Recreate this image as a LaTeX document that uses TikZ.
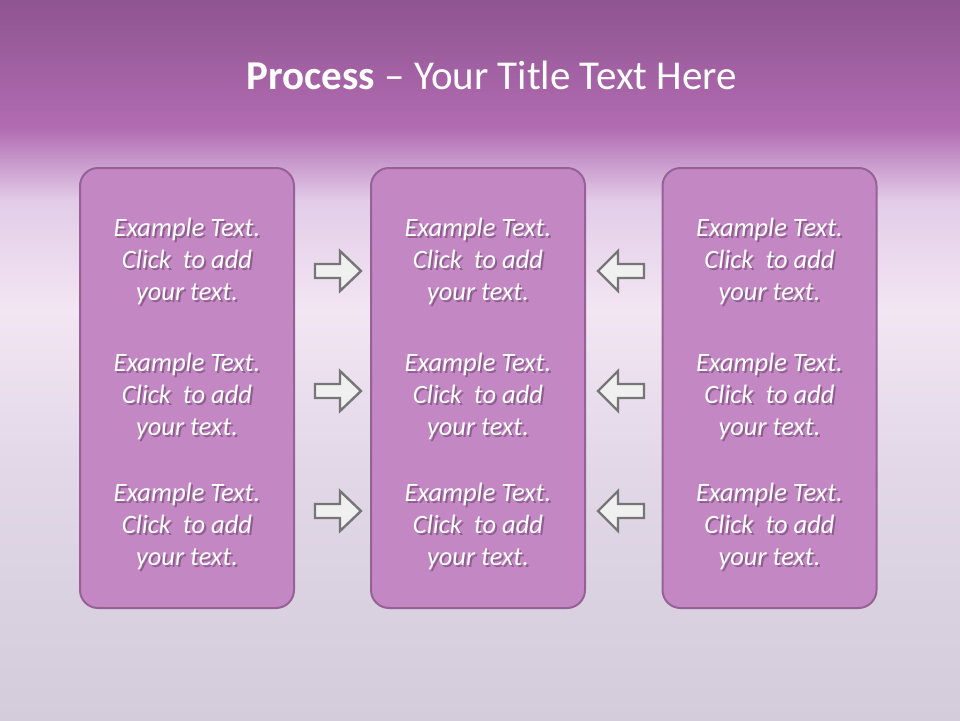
\documentclass[tikz,border=0pt]{standalone}
\usepackage{fontspec}
\setmainfont{Carlito}
\usetikzlibrary{positioning}

\definecolor{bandtop}{RGB}{142,84,144}
\definecolor{bandlow}{RGB}{178,108,178}
\definecolor{haze}{RGB}{226,204,232}
\definecolor{skylight}{RGB}{243,230,243}
\definecolor{horizon}{RGB}{226,216,232}
\definecolor{seagray}{RGB}{212,204,218}
\definecolor{boxfill}{RGB}{195,136,196}
\definecolor{boxline}{RGB}{150,98,150}
\definecolor{arrowfill}{RGB}{240,240,240}
\definecolor{arrowline}{RGB}{118,118,118}
\definecolor{shadowtone}{RGB}{80,40,80}

\tikzset{
    panel/.style={draw=boxline, fill=boxfill, line width=2pt, rounded corners=18pt,
        minimum width=214pt, minimum height=440pt, inner sep=0pt},
    bodytext/.style={text=white, align=center, inner sep=0pt,
        font=\fontsize{26.5}{32}\selectfont\itshape},
    bodyshadow/.style={bodytext, text=shadowtone, opacity=0.45},
    blockarrow/.style={draw=arrowline, fill=arrowfill, line width=2.4pt, line join=miter}
}

\begin{document}
\begin{tikzpicture}[x=1pt, y=-1pt]
    \useasboundingbox (0,0) rectangle (960,720);

    % Fond (bandeau + ciel + mer)
    \shade[top color=bandtop, bottom color=bandlow] (0,0) rectangle (960,129);
    \shade[top color=bandlow, bottom color=haze] (0,128) rectangle (960,201);
    \shade[top color=haze, bottom color=skylight] (0,200) rectangle (960,311);
    \shade[top color=skylight, bottom color=horizon] (0,310) rectangle (960,461);
    \shade[top color=horizon, bottom color=seagray] (0,460) rectangle (960,720);

    % Titre
    \node[text=white, font=\fontsize{41}{44}\selectfont] (title) at (492,75)
        {\textbf{Process} -- Your Title Text Here};

    % Colonnes
    \node[panel] (boxL) at (187,388) {};
    \node[panel] (boxM) at (478,388) {};
    \node[panel] (boxR) at (769.5,388) {};

    % Textes
    \foreach \col/\x in {L/187, M/478, R/769.5} {
        \foreach \row/\y in {1/261, 2/396, 3/526} {
            \node[bodyshadow] (shd\col\row) at (\x+2,\y+2)
                {Example Text.\\Click~ to add\\your text.};
            \node[bodytext] (txt\col\row) at (\x,\y)
                {Example Text.\\Click~ to add\\your text.};
        }
    }

    % Flèches
    \foreach \y in {271, 391, 511} {
        \draw[blockarrow] (315,\y-7) -- (340,\y-7) -- (340,\y-20) -- (361,\y)
            -- (340,\y+20) -- (340,\y+7) -- (315,\y+7) -- cycle;
        \draw[blockarrow] (644,\y-7) -- (618,\y-7) -- (618,\y-20) -- (598,\y)
            -- (618,\y+20) -- (618,\y+7) -- (644,\y+7) -- cycle;
    }
\end{tikzpicture}
\end{document}
